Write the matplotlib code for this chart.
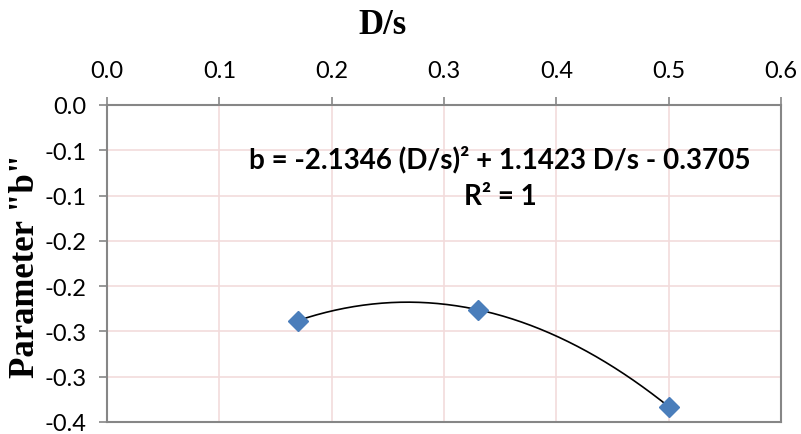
import numpy as np
import matplotlib
matplotlib.use("Agg")
import matplotlib.pyplot as plt
from matplotlib.ticker import FuncFormatter

# data
ds = [0.17, 0.33, 0.50]
b_vals = [-0.238, -0.226, -0.333]

x_ticks = [0.0, 0.1, 0.2, 0.3, 0.4, 0.5, 0.6]
y_ticks = [0.0, -0.05, -0.10, -0.15, -0.20, -0.25, -0.30, -0.35]

eq_text = "b = -2.1346 (D/s)² + 1.1423 D/s - 0.3705"
r2_text = "R² = 1"

grid_col = "#F2DCDB"
spine_col = "#868686"
marker_col = "#4A7EBB"

fig = plt.figure(figsize=(8.01, 4.35), dpi=100)
ax = fig.add_axes([107 / 801, 1 - 423 / 435, (781 - 107) / 801, (423 - 106) / 435])

# quadratic trendline through the points
coef = np.polyfit(ds, b_vals, 2)
xs = np.linspace(min(ds), max(ds), 200)
ax.plot(xs, np.polyval(coef, xs), color="black", lw=1.2, zorder=3)
ax.plot(ds, b_vals, "D", color=marker_col, markersize=10, zorder=4)

ax.set_xlim(0, 0.6)
ax.set_ylim(-0.35, 0.0)
ax.set_xticks(x_ticks)
ax.set_yticks(y_ticks)


def excel_round(v, pos):
    r = np.sign(v) * np.floor(abs(v) * 10 + 0.5 + 1e-9) / 10
    return f"{r:.1f}" if r != 0 else "0.0"


ax.xaxis.set_major_formatter(FuncFormatter(lambda v, p: f"{v:.1f}"))
ax.yaxis.set_major_formatter(FuncFormatter(excel_round))
ax.xaxis.tick_top()
ax.tick_params(axis="x", direction="out", length=6, width=1.2, color=spine_col,
               labelsize=17, pad=11)
ax.tick_params(axis="y", direction="out", length=6, width=1.2, color=spine_col,
               labelsize=17, pad=9)
for lab in ax.get_xticklabels() + ax.get_yticklabels():
    lab.set_family("Lato")

ax.grid(True, color=grid_col, lw=1.2)
ax.set_axisbelow(True)
for s in ax.spines.values():
    s.set_color(spine_col)
    s.set_linewidth(1.5)

ax.text(0.35, -0.0596, eq_text, ha="center", va="center", fontsize=20,
        fontweight="bold", family="Lato")
ax.text(0.35, -0.1005, r2_text, ha="center", va="center", fontsize=20,
        fontweight="bold", family="Lato")

fig.text(383 / 801, 1 - 25 / 435, "D/s", ha="center", va="center",
         fontsize=25, fontweight="bold", family="Liberation Serif")
fig.text(26 / 801, 1 - 266 / 435, 'Parameter "b"', ha="center", va="center",
         rotation=90, fontsize=25, fontweight="bold", family="Liberation Serif")

fig.savefig("out.png", dpi=100)
